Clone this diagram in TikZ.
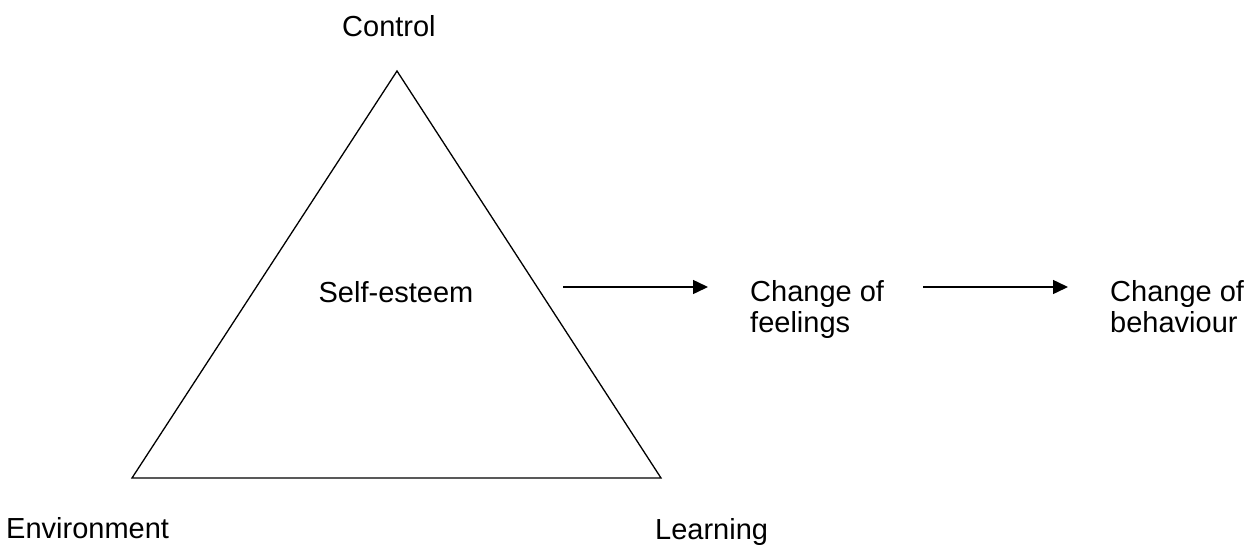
\documentclass[tikz,border=0pt]{standalone}
\usepackage{fontspec}
\setmainfont{Liberation Sans}
\usetikzlibrary{arrows.meta}
\begin{document}
\begin{tikzpicture}[x=1pt,y=-1pt,
  lbl/.style={inner sep=0pt,font=\fontsize{29}{31}\selectfont,align=left,anchor=base west},
  tri/.style={line width=1.3pt,line join=miter},
  flow/.style={line width=1.5pt,-{Triangle[length=15pt,width=14pt]}}]
\useasboundingbox (0,0) rectangle (1258,544);
\coordinate (top) at (397,71);
\coordinate (bl) at (132,478);
\coordinate (br) at (661,478);
\draw[tri] (top) -- (bl) -- (br) -- cycle;
\node[lbl] (control) at (342,36) {Control};
\node[lbl,anchor=base] (self) at (396,302) {Self-esteem};
\node[lbl] (env) at (6,538) {Environment};
\node[lbl] (learn) at (655,539) {Learning};
\node[lbl] (feel) at (750,332) {Change of\\feelings};
\node[lbl] (behav) at (1110,332) {Change of\\behaviour};
\coordinate (a1s) at (563,287);
\coordinate (a1e) at (708,287);
\coordinate (a2s) at (923,287);
\coordinate (a2e) at (1068,287);
\draw[flow] (a1s) -- (a1e);
\draw[flow] (a2s) -- (a2e);
\end{tikzpicture}
\end{document}
